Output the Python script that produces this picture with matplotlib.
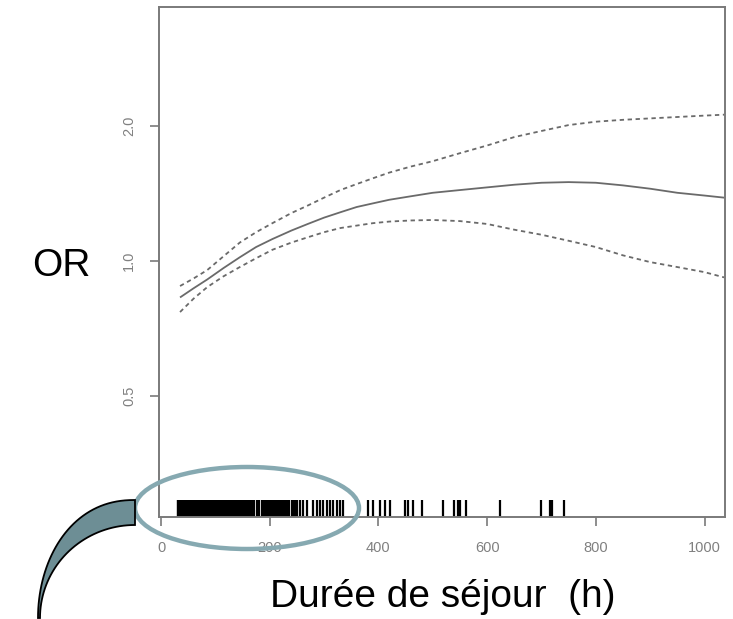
import numpy as np
import matplotlib
matplotlib.use("Agg")
import matplotlib.pyplot as plt
from matplotlib.patches import Ellipse, PathPatch
from matplotlib.path import Path
from matplotlib.transforms import blended_transform_factory
from matplotlib.ticker import FixedLocator, NullLocator

plt.rcParams["font.family"] = ["Liberation Sans", "DejaVu Sans"]

# Spline estimate of the odds ratio against length of stay, with its band
duree = [35, 60, 85, 115, 145, 175, 205, 240, 270, 300, 330, 360, 390, 420,
         460, 500, 550, 600, 650, 700, 750, 800, 850, 900, 950, 1000, 1036]
or_estime = [0.83, 0.87, 0.91, 0.965, 1.02, 1.075, 1.12, 1.17, 1.21, 1.25,
             1.285, 1.32, 1.345, 1.37, 1.395, 1.42, 1.44, 1.46, 1.48, 1.495,
             1.50, 1.495, 1.475, 1.45, 1.42, 1.40, 1.385]
or_haut = [0.88, 0.915, 0.955, 1.025, 1.10, 1.16, 1.215, 1.28, 1.33, 1.385,
           1.44, 1.485, 1.53, 1.575, 1.625, 1.67, 1.74, 1.81, 1.89, 1.95,
           2.01, 2.045, 2.065, 2.08, 2.095, 2.11, 2.12]
or_bas = [0.77, 0.825, 0.875, 0.925, 0.97, 1.015, 1.06, 1.10, 1.13, 1.16,
          1.185, 1.20, 1.215, 1.225, 1.232, 1.235, 1.228, 1.21, 1.175, 1.145,
          1.11, 1.075, 1.03, 0.995, 0.97, 0.945, 0.92]

# Observed lengths of stay (rug)
sejours = [31, 32, 34, 35, 37, 39, 40, 42, 44, 45, 47, 49, 51, 52, 54, 56, 58,
           59, 61, 63, 65, 66, 68, 70, 72, 74, 75, 77, 79, 81, 83, 85, 86, 88,
           90, 92, 94, 96, 98, 100, 102, 104, 106, 108, 110, 112, 114, 116,
           118, 120, 122, 124, 127, 129, 131, 133, 136, 138, 140, 143, 145,
           148, 150, 153, 155, 158, 161, 164, 168, 172, 177, 181, 185, 188,
           192, 195, 199, 202, 206, 210, 213, 217, 220, 224, 228, 232, 235,
           241, 244, 247, 250, 256, 261, 269, 280, 287, 293, 298, 305, 311,
           317, 324, 329, 335, 381, 390, 403, 412, 421, 449, 454, 464, 480,
           519, 539, 546, 550, 561, 624, 699, 716, 719, 741]

x_ticks = [0, 200, 400, 600, 800, 1000]
y_ticks = [0.5, 1.0, 2.0]
y_tick_labels = ["0.5", "1.0", "2.0"]

W, H = 733, 619
fig = plt.figure(figsize=(W / 100, H / 100), dpi=100)
ax = fig.add_axes([159 / W, 1 - 517 / H, 566 / W, 510 / H])

axis_grey = "#7a7a7a"
line_grey = "#6a6a6a"

ax.plot(duree, or_estime, color=line_grey, lw=1.3, solid_capstyle="butt")
ax.plot(duree, or_haut, color=line_grey, lw=1.3, linestyle=(0, (2.4, 2.0)))
ax.plot(duree, or_bas, color=line_grey, lw=1.3, linestyle=(0, (2.4, 2.0)))

rug_tr = blended_transform_factory(ax.transData, ax.transAxes)
ax.vlines(sejours, 0, 0.034, transform=rug_tr, colors="black", lw=1.6)

ax.set_yscale("log")
ax.set_xlim(-3.7, 1037.7)
ax.set_ylim(0.269, 3.684)
ax.xaxis.set_major_locator(FixedLocator(x_ticks))
ax.set_xticklabels([str(v) for v in x_ticks])
ax.yaxis.set_major_locator(FixedLocator(y_ticks))
ax.yaxis.set_minor_locator(NullLocator())
ax.set_yticklabels(y_tick_labels, rotation=90, va="center")

for s in ax.spines.values():
    s.set_color(axis_grey)
    s.set_linewidth(1.4)
ax.tick_params(axis="both", length=6.5, width=1.2, color=axis_grey,
               labelcolor="#808080", labelsize=10.5)
ax.tick_params(axis="x", pad=11)
ax.tick_params(axis="y", pad=10)

fig.text(61 / W, 1 - 266 / H, "OR", fontsize=28, ha="center", va="center")
fig.text(443 / W, 1 - 597 / H, "Durée de séjour  (h)", fontsize=28,
         ha="center", va="center")

# Overlay in pixel units for the highlight ellipse and the curved pointer
ov = fig.add_axes([0, 0, 1, 1], zorder=5)
ov.set_xlim(0, W)
ov.set_ylim(H, 0)
ov.axis("off")
ov.patch.set_alpha(0)

ov.add_patch(Ellipse((247, 508), 224, 82, fill=False, edgecolor="#86a9b1",
                     lw=3.2))

phi = np.linspace(0, np.pi / 2, 40)
outer = np.column_stack([135 - 97 * np.sin(phi) ** 0.9,
                         618 - 118 * np.cos(phi)])
inner = np.column_stack([135 - 95 * np.sin(phi), 618 - 93 * np.cos(phi)])
verts = np.vstack([outer, inner[::-1], outer[:1]])
codes = [Path.MOVETO] + [Path.LINETO] * (len(verts) - 2) + [Path.CLOSEPOLY]
ov.add_patch(PathPatch(Path(verts, codes), facecolor="#6d8e95",
                       edgecolor="black", lw=1.3))

fig.savefig("out.png", dpi=100)
